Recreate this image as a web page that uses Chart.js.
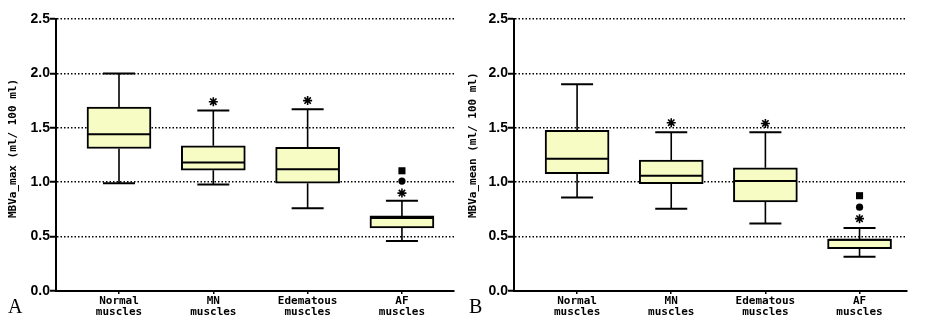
<!DOCTYPE html>
<html>
<head>
<meta charset="utf-8">
<script src="https://cdn.jsdelivr.net/npm/chart.js@4.4.0/dist/chart.umd.min.js"></script>
<style>
  html, body { margin: 0; padding: 0; background: #fff; }
  #wrap { position: relative; width: 927px; height: 326px; }
  canvas { position: absolute; top: 0; }
  #chartA { left: 0; }
  #chartB { left: 463px; }
</style>
</head>
<body>
<div id="wrap">
  <canvas id="chartA" width="463" height="326"></canvas>
  <canvas id="chartB" width="464" height="326"></canvas>
</div>
<script>
// categories / tick labels
const categories = [['Normal', 'muscles'], ['MN', 'muscles'], ['Edematous', 'muscles'], ['AF', 'muscles']];

// Panel A: MBVa_max
const maxLow = [0.99, 0.98, 0.76, 0.46];
const maxQ1 = [1.31, 1.11, 0.99, 0.58];
const maxMedian = [1.44, 1.18, 1.12, 0.67];
const maxQ3 = [1.69, 1.335, 1.32, 0.69];
const maxHigh = [2.0, 1.66, 1.67, 0.83];
const maxStar = [null, 1.74, 1.75, 0.90];
const maxCircle = [null, null, null, 1.01];
const maxSquare = [null, null, null, 1.105];

// Panel B: MBVa_mean
const meanLow = [0.86, 0.755, 0.62, 0.315];
const meanQ1 = [1.078, 0.986, 0.818, 0.39];
const meanMedian = [1.216, 1.06, 1.01, 0.47];
const meanQ3 = [1.477, 1.204, 1.133, 0.478];
const meanHigh = [1.90, 1.46, 1.46, 0.58];
const meanStar = [null, 1.547, 1.54, 0.665];
const meanCircle = [null, null, null, 0.77];
const meanSquare = [null, null, null, 0.876];

const BOX_FILL = '#f7fbc4';
const MONO = '"DejaVu Sans Mono", "Liberation Mono", monospace';

// whiskers + median lines, drawn on top of the floating bars
const whiskerPlugin = {
  id: 'whiskers',
  afterDatasetsDraw(chart, args, opts) {
    const ctx = chart.ctx;
    const ys = chart.scales.y;
    const meta = chart.getDatasetMeta(0);
    ctx.save();
    ctx.strokeStyle = '#000';
    meta.data.forEach((bar, i) => {
      const cx = bar.x;
      const half = bar.width / 2;
      const cap = half * 0.5;
      const top = ys.getPixelForValue(opts.q3[i]);
      const bot = ys.getPixelForValue(opts.q1[i]);
      const hi = ys.getPixelForValue(opts.high[i]);
      const lo = ys.getPixelForValue(opts.low[i]);
      const med = ys.getPixelForValue(opts.median[i]);
      ctx.lineWidth = 1.6;
      ctx.beginPath();
      ctx.moveTo(cx, top); ctx.lineTo(cx, hi);
      ctx.moveTo(cx, bot); ctx.lineTo(cx, lo);
      ctx.stroke();
      ctx.lineWidth = 2;
      ctx.beginPath();
      ctx.moveTo(cx - cap, hi); ctx.lineTo(cx + cap, hi);
      ctx.moveTo(cx - cap, lo); ctx.lineTo(cx + cap, lo);
      ctx.moveTo(cx - half + 1, med); ctx.lineTo(cx + half - 1, med);
      ctx.stroke();
    });
    ctx.restore();
  }
};

// axis title and panel letter
const panelTextPlugin = {
  id: 'panelText',
  afterDraw(chart, args, opts) {
    const ctx = chart.ctx;
    ctx.save();
    ctx.fillStyle = '#000';
    ctx.font = 'bold 11px ' + MONO;
    ctx.translate(opts.titleX, 218);
    ctx.rotate(-Math.PI / 2);
    ctx.textAlign = 'left';
    ctx.textBaseline = 'middle';
    ctx.fillText(opts.title, 0, 0);
    ctx.restore();

    ctx.save();
    ctx.fillStyle = '#000';
    ctx.font = '20px "Liberation Serif", "DejaVu Serif", serif';
    ctx.textAlign = 'left';
    ctx.textBaseline = 'alphabetic';
    ctx.fillText(opts.letter, opts.letterX, 313);
    ctx.restore();
  }
};

function points(values) {
  return values
    .map((v, i) => (v === null ? null : { x: i, y: v }))
    .filter((p) => p !== null);
}

function createPanel(canvasId, cfg) {
  const ctx = document.getElementById(canvasId).getContext('2d');
  const canvasW = ctx.canvas.width;

  new Chart(ctx, {
    type: 'bar',
    data: {
      datasets: [
        {
          type: 'bar',
          data: cfg.q1.map((v, i) => ({ x: i, y: [v, cfg.q3[i]] })),
          backgroundColor: BOX_FILL,
          borderColor: '#000',
          borderWidth: 2,
          borderSkipped: false,
          barThickness: 64,
        },
        {
          type: 'scatter',
          data: points(cfg.star),
          pointStyle: 'star',
          pointRadius: 4.5,
          borderColor: '#000',
          borderWidth: 1.6,
          backgroundColor: '#000',
        },
        {
          type: 'scatter',
          data: points(cfg.circle),
          pointStyle: 'circle',
          pointRadius: 3.6,
          borderWidth: 0,
          backgroundColor: '#000',
        },
        {
          type: 'scatter',
          data: points(cfg.square),
          pointStyle: 'rect',
          pointRadius: 5,
          borderWidth: 0,
          backgroundColor: '#000',
        },
      ],
    },
    options: {
      responsive: false,
      animation: false,
      devicePixelRatio: 1,
      layout: {
        padding: { left: 0, top: 19, right: canvasW - cfg.right, bottom: 0 },
      },
      plugins: {
        legend: { display: false },
        tooltip: { enabled: false },
        whiskers: { q1: cfg.q1, q3: cfg.q3, low: cfg.low, high: cfg.high, median: cfg.median },
        panelText: { title: cfg.title, titleX: cfg.titleX, letter: cfg.letter, letterX: cfg.letterX },
      },
      scales: {
        x: {
          type: 'linear',
          min: cfg.xMin,
          max: cfg.xMax,
          offset: false,
          afterBuildTicks: (scale) => {
            scale.ticks = categories.map((c, i) => ({ value: i }));
          },
          afterFit: (scale) => { scale.height = 35; },
          grid: {
            offset: false,
            drawOnChartArea: false,
            drawTicks: true,
            tickLength: 3,
            color: '#000',
            lineWidth: 1.5,
          },
          border: { display: true, color: '#000', width: 2 },
          ticks: {
            autoSkip: false,
            maxRotation: 0,
            padding: 2,
            color: '#000',
            font: { family: MONO, size: 11, weight: 'bold', lineHeight: 1 },
            callback: (v) => categories[v],
          },
        },
        y: {
          min: 0,
          max: 2.5,
          afterFit: (scale) => { scale.width = cfg.left; },
          grid: {
            color: '#000',
            lineWidth: 1.5,
            tickBorderDash: [],
            tickLength: 6,
            tickWidth: 2,
            tickColor: '#000',
          },
          border: { display: true, color: '#000', width: 2, dash: [1.5, 2] },
          ticks: {
            stepSize: 0.5,
            padding: 0,
            color: '#000',
            font: { family: '"Liberation Sans", Arial, sans-serif', size: 14, weight: 'bold' },
            callback: (v) => v.toFixed(1),
          },
        },
      },
    },
    plugins: [whiskerPlugin, panelTextPlugin],
  });
}

createPanel('chartA', {
  low: maxLow, q1: maxQ1, median: maxMedian, q3: maxQ3, high: maxHigh,
  star: maxStar, circle: maxCircle, square: maxSquare,
  title: 'MBVa_max (ml/ 100 ml)', titleX: 13, letter: 'A', letterX: 8,
  left: 56, right: 454, xMin: -0.668, xMax: 3.552,
});

createPanel('chartB', {
  low: meanLow, q1: meanQ1, median: meanMedian, q3: meanQ3, high: meanHigh,
  star: meanStar, circle: meanCircle, square: meanSquare,
  title: 'MBVa_mean (ml/ 100 ml)', titleX: 10, letter: 'B', letterX: 6,
  left: 51, right: 444, xMin: -0.670, xMax: 3.504,
});
</script>
</body>
</html>
